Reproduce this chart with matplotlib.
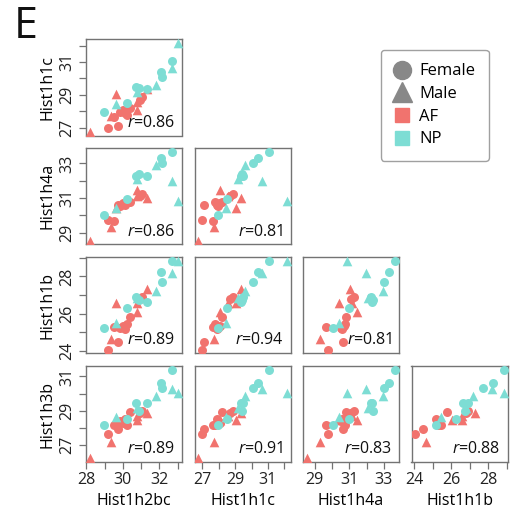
import numpy as np
import matplotlib
matplotlib.use("Agg")
import matplotlib.pyplot as plt
from matplotlib.lines import Line2D

plt.rcParams['font.family'] = ['Open Sans', 'DejaVu Sans']
plt.rcParams['mathtext.fontset'] = 'custom'
plt.rcParams['mathtext.it'] = 'Open Sans:italic'
plt.rcParams['mathtext.rm'] = 'Open Sans'

genes = ["Hist1h2bc", "Hist1h1c", "Hist1h4a", "Hist1h1b", "Hist1h3b"]

# sample-level data (AF first, then NP)
group = ["AF"] * 16 + ["NP"] * 13
sex = ["M", "F", "M", "F", "M", "F", "F", "F", "F", "F", "F", "M", "M", "F", "F", "M",
       "F", "M", "F", "F", "M", "F", "F", "M", "F", "F", "F", "M", "M"]
hist1h2bc = [28.18, 29.17, 29.37, 29.50, 29.64, 29.75, 29.85, 30.00, 30.10, 30.25, 30.40,
             30.78, 30.80, 31.04, 30.95, 31.30,
             28.95, 29.64, 30.22, 30.70, 30.80, 30.90, 31.35, 31.80, 32.10, 32.15, 32.67, 32.72, 33.05]
hist1h1c = [26.74, 26.99, 27.69, 27.63, 29.07, 27.11, 27.95, 28.05, 27.90, 27.75, 28.20,
            28.06, 28.56, 28.90, 28.70, 29.37,
            27.95, 28.46, 28.52, 29.47, 29.17, 29.40, 29.33, 29.60, 30.38, 30.07, 31.05, 30.62, 32.16]
hist1h4a = [28.54, 29.76, 29.33, 29.66, 30.43, 30.62, 30.55, 30.70, 30.60, 30.75, 30.80,
            31.45, 31.15, 31.25, 31.10, 31.03,
            30.04, 30.43, 30.97, 32.26, 32.10, 32.40, 32.30, 32.93, 33.30, 33.00, 33.67, 31.97, 30.85]
hist1h1b = [np.nan, 24.06, 24.63, 25.30, 26.58, 24.50, 25.25, 25.35, 25.20, 25.45, 25.80,
            26.07, 26.60, 26.90, 26.80, 27.30,
            25.21, 25.48, 26.28, 26.90, 26.82, 26.75, 26.65, 27.20, 28.23, 27.72, 28.84, 28.20, 28.84]
hist1h3b = [26.24, 27.67, 27.22, 28.16, 28.50, 27.95, 28.40, 28.30, 28.55, 28.20, 28.95,
            28.45, 28.70, 29.00, 28.85, 28.85,
            28.16, 28.65, 28.55, 29.44, 29.15, 29.00, 29.48, 29.84, 30.61, 30.32, 31.40, 30.26, 30.02]

# correlation labels, lower triangle, row-wise
r_values = [[0.86], [0.86, 0.81], [0.89, 0.94, 0.81], [0.89, 0.91, 0.83, 0.88]]

data = np.array([hist1h2bc, hist1h1c, hist1h4a, hist1h1b, hist1h3b], dtype=float)
group = np.array(group)
sex = np.array(sex)

colors = {"AF": "#F1736E", "NP": "#7DDDD4"}
markers = {"F": "o", "M": "^"}
msize = {"F": 42, "M": 48}

W, H = 515, 509
fig = plt.figure(figsize=(W / 100, H / 100), dpi=100)

col_left = [86, 194.5, 303, 411.5]
row_top = [39.5, 148.3, 257.3, 366]
pw, ph = 96, 96

def lims(v):
    lo, hi = np.nanmin(v), np.nanmax(v)
    d = (hi - lo) * 0.04
    return lo - d, hi + d

def set_ticks(lo, hi, setter_ticks, setter_labels):
    first = int(np.ceil(lo))
    last = int(np.floor(hi))
    ticks = list(range(first, last + 1))
    labs = [str(t) if (t - first) % 2 == 0 else "" for t in ticks]
    setter_ticks(ticks)
    setter_labels(labs)

frame_col = "#737373"
for i in range(1, 5):          # row variable index
    for j in range(0, i):      # column variable index
        r = i - 1
        ax = fig.add_axes([col_left[j] / W, 1 - (row_top[r] + ph) / H, pw / W, ph / H])
        x = data[j]
        y = data[i]
        for k in range(len(x)):
            if np.isnan(x[k]) or np.isnan(y[k]):
                continue
            ax.scatter(x[k], y[k], s=msize[sex[k]], marker=markers[sex[k]],
                       color=colors[group[k]], linewidths=0, zorder=3)
        xl = lims(x)
        yl = lims(y)
        ax.set_xlim(*xl)
        ax.set_ylim(*yl)
        for sp in ax.spines.values():
            sp.set_color(frame_col)
            sp.set_linewidth(1.0)
        ax.tick_params(length=5, width=0.9, color=frame_col, direction='out', labelsize=11.5,
                       pad=2.5, labelcolor="#222222")
        if j == 0:
            set_ticks(*yl, ax.set_yticks, ax.set_yticklabels)
            plt.setp(ax.get_yticklabels(), rotation=90, va='center')
            ax.set_ylabel(genes[i], fontsize=11.5, labelpad=3)
        else:
            ax.set_yticks([])
        if i == 4:
            set_ticks(*xl, ax.set_xticks, ax.set_xticklabels)
            ax.set_xlabel(genes[j], fontsize=11.5, labelpad=3)
        else:
            ax.set_xticks([])
        ax.text(0.93, 0.05, r"$\it{r}$=%.2f" % r_values[r][j], transform=ax.transAxes,
                ha='right', va='bottom', fontsize=11.5, color="#111111")

fig.text(14 / W, 1 - 38 / H, "E", fontsize=31, ha='left', va='baseline', color="#111111")

handles = [
    Line2D([], [], marker='o', color='#888888', linestyle='None', markersize=13),
    Line2D([], [], marker='^', color='#888888', linestyle='None', markersize=14),
    Line2D([], [], marker='s', color=colors["AF"], linestyle='None', markersize=10),
    Line2D([], [], marker='s', color=colors["NP"], linestyle='None', markersize=10),
]
leg = fig.legend(handles, ["Female", "Male", "AF", "NP"], loc='upper left',
                 bbox_to_anchor=(381 / W, 1 - 50 / H), frameon=True, fancybox=True,
                 fontsize=12, handletextpad=0.6, labelspacing=0.4, borderpad=0.8,
                 handlelength=0.9, borderaxespad=0)
leg.get_frame().set_edgecolor("#888888")
leg.get_frame().set_linewidth(1.0)

fig.savefig("out.png", dpi=100)
